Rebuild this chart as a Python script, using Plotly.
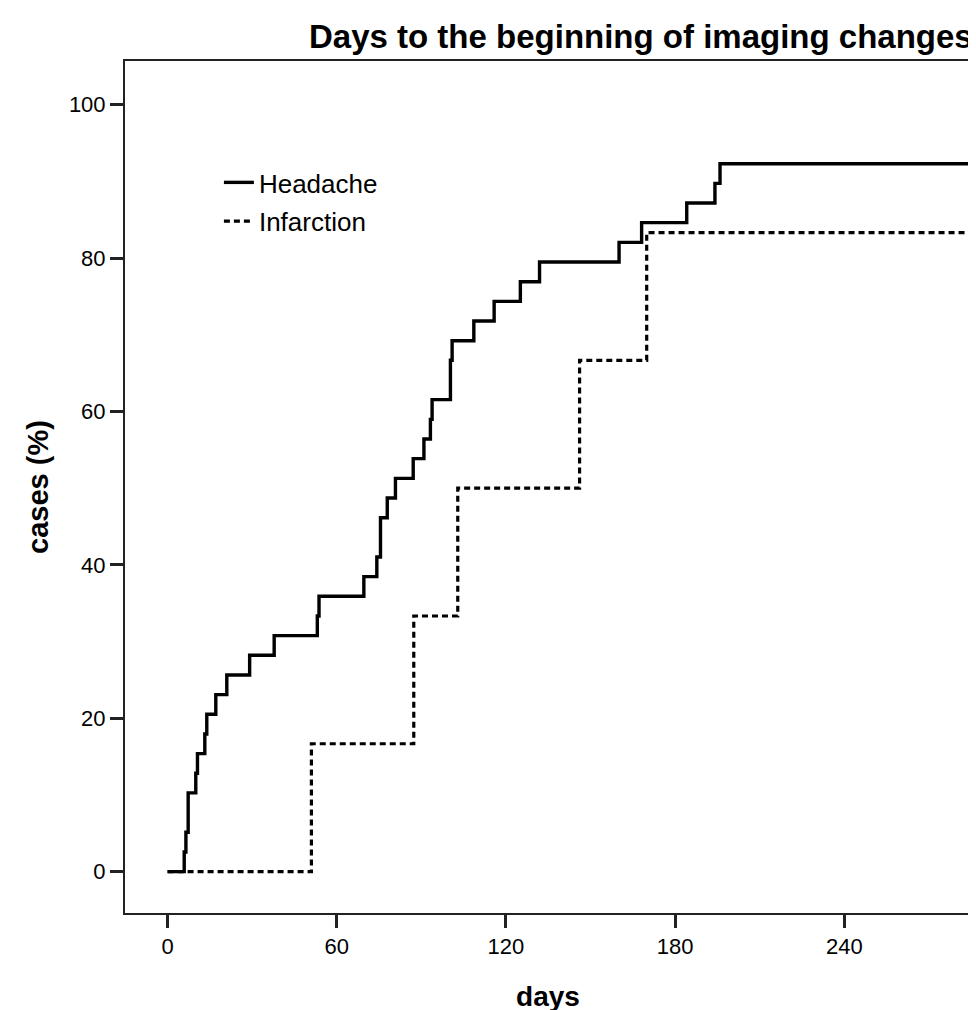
import plotly.graph_objects as go

# Data (Kaplan-Meier style cumulative curves)
headache_days = [0, 5.9, 6.5, 7.3, 10.0, 10.6, 13.2, 13.9, 17.1, 21.0,
                 29.1, 37.8, 53.1, 53.7, 69.6, 74.2, 75.5, 77.9, 80.8, 87.1,
                 90.9, 93.2, 93.8, 100.3, 100.9, 108.6, 115.8, 125.1, 131.9, 160.1,
                 168.1, 184.1, 194.1, 195.9, 285]
headache_pct = [0, 2.56, 5.13, 10.26, 12.82, 15.38, 17.95, 20.51, 23.08, 25.64,
                28.21, 30.77, 33.33, 35.90, 38.46, 41.03, 46.15, 48.72, 51.28, 53.85,
                56.41, 58.97, 61.54, 66.67, 69.23, 71.79, 74.36, 76.92, 79.49, 82.05,
                84.62, 87.18, 89.74, 92.31, 92.31]

infarction_days = [0, 51.0, 87.3, 102.9, 146.1, 169.9, 285]
infarction_pct = [0, 16.67, 33.33, 50.0, 66.67, 83.33, 83.33]

x_ticks = [0, 60, 120, 180, 240]
y_ticks = [0, 20, 40, 60, 80, 100]

title_text = "Days to the beginning of imaging changes"
x_title = "days"
y_title = "cases (%)"

FONT = "Liberation Sans, Arial, sans-serif"

fig = go.Figure()
fig.add_trace(go.Scatter(
    x=headache_days, y=headache_pct, mode="lines", line_shape="hv",
    name="Headache", legendgroup="a",
    line=dict(color="black", width=3.4),
))
fig.add_trace(go.Scatter(
    x=infarction_days, y=infarction_pct, mode="lines", line_shape="hv",
    name="Infarction", legendgroup="b",
    line=dict(color="black", width=3.2, dash="6px,4px"),
))

fig.update_layout(
    width=976, height=1010,
    margin=dict(l=117, r=11, t=53, b=97),
    plot_bgcolor="white", paper_bgcolor="white",
    font=dict(family=FONT, color="black", size=22),
    showlegend=True,
    legend=dict(
        x=0.111, y=0.885, xanchor="left", yanchor="top",
        bgcolor="rgba(0,0,0,0)", borderwidth=0,
        font=dict(size=26, family=FONT, color="black"),
        tracegroupgap=2,
    ),
    annotations=[dict(
        text="<b>" + title_text + "</b>", xref="paper", yref="paper",
        x=(299 - 117) / 848, y=1.0, xanchor="left", yanchor="bottom",
        yshift=4, showarrow=False,
        font=dict(size=33, family=FONT, color="black"),
    )],
)

fig.update_xaxes(
    range=[-15.1, 284.9], tickvals=x_ticks, ticktext=[str(v) for v in x_ticks],
    showgrid=False, zeroline=False,
    showline=True, linecolor="#222", linewidth=2, mirror=True,
    ticks="outside", ticklen=13, tickwidth=2.5, tickcolor="#222",
    tickfont=dict(size=22, family=FONT, color="black"),
    title=dict(text="<b>" + x_title + "</b>", font=dict(size=28, family=FONT, color="black"), standoff=28),
)
fig.update_yaxes(
    range=[-5.4, 105.7], tickvals=y_ticks, ticktext=[str(v) for v in y_ticks],
    showgrid=False, zeroline=False,
    showline=True, linecolor="#222", linewidth=2, mirror=True,
    ticks="outside", ticklen=13, tickwidth=2.5, tickcolor="#222",
    tickfont=dict(size=22, family=FONT, color="black"),
    title=dict(text="<b>" + y_title + "</b>", font=dict(size=29, family=FONT, color="black"), standoff=12),
)

fig.write_html("out.html")
